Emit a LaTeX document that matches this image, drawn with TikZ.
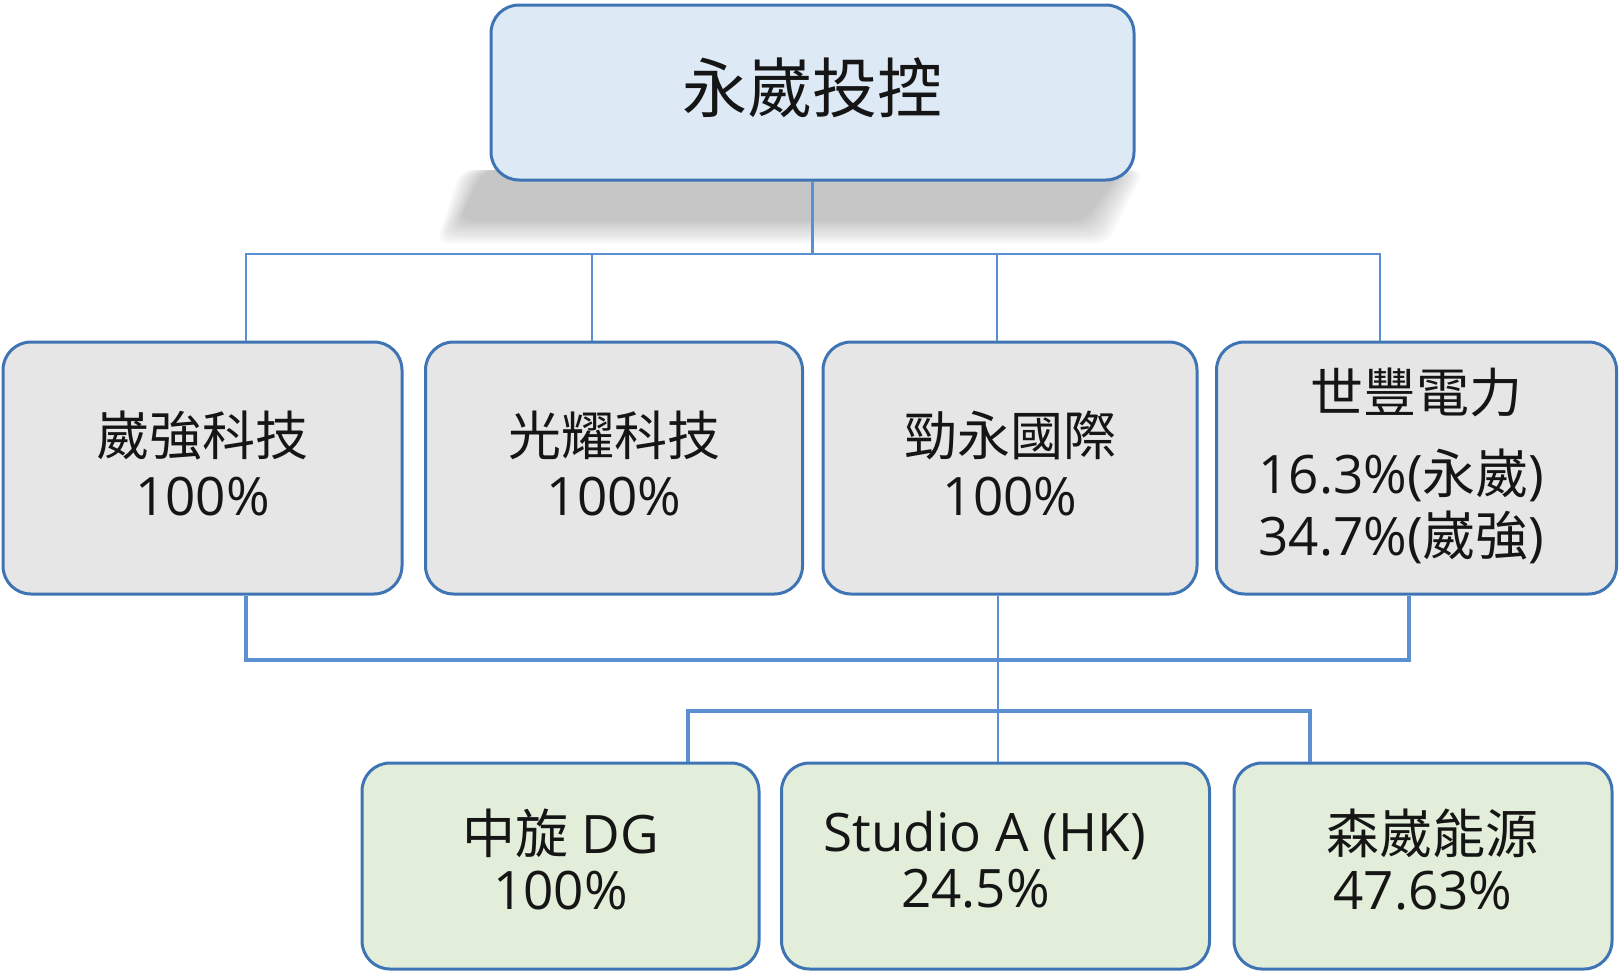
\documentclass[tikz,border=0pt]{standalone}
\usepackage{fontspec}
\setmainfont{Open Sans}
\newfontfamily\cjk{Noto Sans CJK TC}
\definecolor{bordc}{HTML}{3E74B4}
\definecolor{connc}{HTML}{5A8FD2}
\definecolor{topfill}{HTML}{DDEAF6}
\definecolor{grayfill}{HTML}{E6E6E6}
\definecolor{greenfill}{HTML}{E2EED9}
\definecolor{txt}{HTML}{151515}
\newcommand\txtlines[2]{\raisebox{#1}{\smash{\begin{tabular}{@{}c@{}}#2\end{tabular}}}}
\begin{document}
\begin{tikzpicture}[x=1pt,y=-1pt,
  box/.style={draw=bordc,line width=3pt,rounded corners=28pt,inner sep=0pt,align=center,text=txt},
  midbox/.style={box,fill=grayfill,font=\fontsize{53}{60}\selectfont},
  lowbox/.style={box,fill=greenfill,font=\fontsize{53}{56}\selectfont},
  thin/.style={draw=connc,line width=2.2pt},
  thick/.style={draw=connc,line width=3.5pt}]
\useasboundingbox (0,0) rectangle (1619,972);
% shadow
\foreach \i in {0,...,8}{
  \pgfmathsetmacro{\e}{(8-\i)*2.8}
  \fill[black,opacity=0.026,rounded corners=12pt] ({483-\e},170) -- ({1122+\e},170) -- ({1085+\e},{221+\e}) -- ({459-\e},{221+\e}) -- cycle;
}
\node[box,fill=topfill,minimum width=643pt,minimum height=175pt,font=\fontsize{65}{70}\selectfont] (top) at (812.5,92.5) {\raisebox{15pt}{\cjk 永崴投控}};
\node[midbox,minimum width=399pt,minimum height=252pt] (b1) at (202.5,468) {\txtlines{-21pt}{{\cjk 崴強科技}\\100\%}};
\node[midbox,minimum width=377pt,minimum height=252pt] (b2) at (614,468) {\txtlines{-21pt}{{\cjk 光耀科技}\\100\%}};
\node[midbox,minimum width=374pt,minimum height=252pt] (b3) at (1010,468) {\txtlines{-21pt}{{\cjk 勁永國際}\\100\%}};
\node[midbox,minimum width=400pt,minimum height=252pt] (b4) at (1416.5,468) {\txtlines{-18pt}{{\cjk 世豐電力}\\[18pt]\hspace*{-30pt}16.3\%({\cjk 永崴})\\\hspace*{-30pt}34.7\%({\cjk 崴強})}};
\node[lowbox,minimum width=397pt,minimum height=206pt] (c1) at (560.5,866) {\txtlines{-15.5pt}{{\cjk 中旋} DG\\100\%}};
\node[lowbox,minimum width=428pt,minimum height=206pt] (c2) at (995.5,866) {\txtlines{-15.5pt}{\hspace*{-22pt}Studio A (HK)\\\hspace*{-40pt}24.5\%}};
\node[lowbox,minimum width=378pt,minimum height=206pt] (c3) at (1423,866) {\txtlines{-15.5pt}{\hspace*{18pt}{\cjk 森崴能源}\\\hspace*{0pt}47.63\%}};
% connectors
\coordinate (d1) at (246,254);
\coordinate (d2) at (592,254);
\coordinate (d3) at (997,254);
\coordinate (d4) at (1380,254);
\draw[thick] (top.south) -- (top.south |- d1);
\draw[thin] (d1 |- b1.north) -- (d1) -- (d4) -- (d4 |- b4.north);
\draw[thin] (d2) -- (d2 |- b2.north);
\draw[thin] (d3) -- (d3 |- b3.north);
\coordinate (e1) at (246,660);
\coordinate (e3) at (998,660);
\coordinate (e4) at (1409,660);
\draw[thick] (e1 |- b1.south) -- (e1) -- (e4) -- (e4 |- b4.south);
\draw[thin] (e3 |- b3.south) -- (e3 |- c2.north);
\coordinate (f1) at (688,711);
\coordinate (f3) at (1310,711);
\draw[thick] (f1 |- c1.north) -- (f1) -- (f3) -- (f3 |- c3.north);
\end{tikzpicture}
\end{document}
